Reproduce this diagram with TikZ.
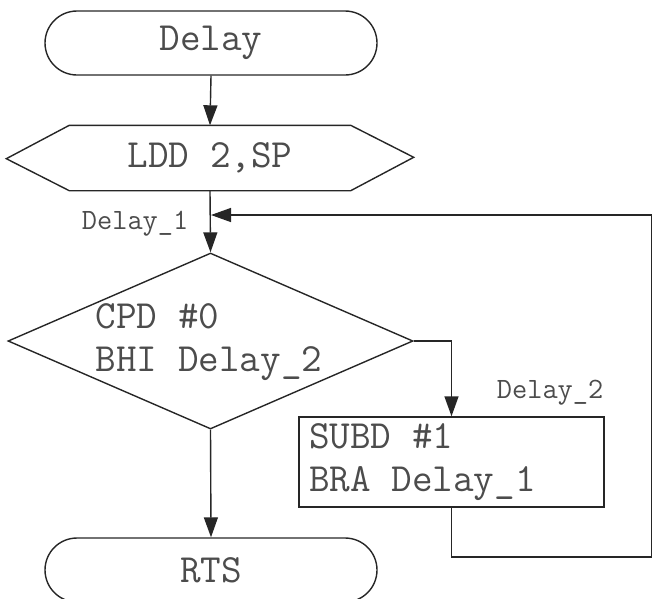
\documentclass[tikz,border=0pt]{standalone}
\usepackage{tikz}
\usetikzlibrary{arrows.meta,shapes.geometric}

\begin{document}
\begin{tikzpicture}[x=1pt,y=-1pt,line width=1.4pt,
  font=\ttfamily\fontsize{40}{43}\selectfont]
\tikzstyle{every node}+=[inner sep=0pt,text=black!70]
\tikzstyle{flow}=[draw=black!85,-{Triangle[length=20pt,width=14pt]}]
\tikzstyle{term}=[draw=black!85,rectangle,rounded corners=32pt,minimum width=332pt,minimum height=64pt]
\tikzstyle{tag}=[font=\ttfamily\fontsize{29.5}{32}\selectfont]
\useasboundingbox (0,0) rectangle (653,598);
% blocks
\node (start) at (211,43) [term] {Delay};
\node (load) at (210,158) [minimum width=280pt,minimum height=64pt] {LDD 2,SP};
\draw [black!85] (load.north west) -- (load.north east) -- ++(63,32) -- (load.south east)
  -- (load.south west) -- ++(-63,-32) -- cycle;
\node (test) at (210.5,341) [diamond,draw=black!85,minimum width=405pt,minimum height=176pt] {};
\node (testtxt) at (209,342) [align=left] {CPD \#0\\BHI Delay\_2};
\node (sub) at (451.5,462) [rectangle,draw=black!85,minimum width=305pt,minimum height=90pt,
  text width=285pt,inner xsep=10pt,inner ysep=3pt,align=left]
  {\spaceskip=0pt\relax SUBD \#1\\BRA Delay\_1};
\node (stop) at (211,570) [term] {RTS};
% labels
\node (lab1) at (189,224) [tag,anchor=east] {Delay\_1};
\node (lab2) at (604,393) [tag,anchor=east] {Delay\_2};
% connectors
\coordinate (join) at (211,215);
\coordinate (c1) at (651.5,557);
\coordinate (c2) at (651.5,215);
\draw [flow] (start.south) -- (load.south |- load.north);
\draw [flow] (load.south) -- (test.north);
\draw [flow] (test.east) -| (sub.north);
\draw [flow] (test.south) -- (stop.north);
\draw [flow] (sub.south) |- (c1) -- (c2) -- (join);
\end{tikzpicture}
\end{document}
